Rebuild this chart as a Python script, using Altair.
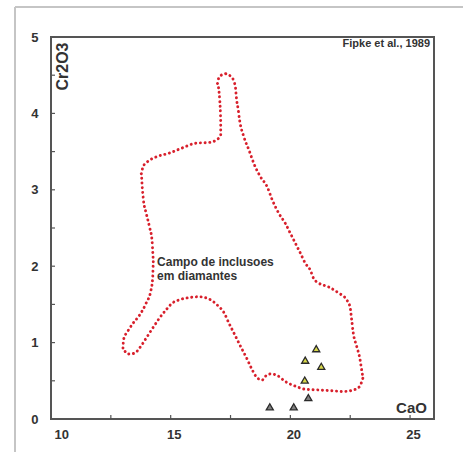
import altair as alt
import pandas as pd

# Outline of the "Campo de inclusoes em diamantes" field (CaO, Cr2O3)
field_cao = [17.30, 17.58, 17.71, 17.74, 17.82, 17.88, 18.06, 18.27, 18.48, 18.75, 19.03, 19.24,
             19.52, 19.79, 20.00, 20.21, 20.42, 20.62, 20.83, 20.97, 21.18, 21.59, 22.01, 22.35,
             22.49, 22.56, 22.63, 22.77, 22.91, 22.98, 23.05, 22.91, 22.63, 22.22, 21.73, 21.18,
             20.62, 20.21, 19.79, 19.45, 19.17, 18.96, 18.82, 18.61, 18.41, 18.20, 17.92, 17.65,
             17.44, 17.23, 16.95, 16.61, 16.19, 15.78, 15.36, 15.08, 14.81, 14.53, 14.25, 13.98,
             13.70, 13.49, 13.21, 13.00, 13.03, 13.21, 13.42, 13.70, 13.98, 14.18, 14.25, 14.28,
             14.22, 14.11, 13.98, 13.86, 13.81, 13.77, 13.84, 14.04, 14.39, 14.94, 15.50, 16.05,
             16.61, 16.95, 17.09, 17.09, 17.05, 16.95, 17.02, 17.30]
field_cr = [4.52, 4.46, 4.33, 4.22, 4.05, 3.91, 3.69, 3.52, 3.34, 3.17, 3.04, 2.87,
            2.69, 2.56, 2.43, 2.30, 2.17, 2.04, 1.95, 1.84, 1.78, 1.73, 1.65, 1.56,
            1.47, 1.30, 1.12, 0.95, 0.78, 0.64, 0.54, 0.43, 0.38, 0.36, 0.37, 0.38,
            0.39, 0.43, 0.49, 0.57, 0.59, 0.56, 0.51, 0.54, 0.64, 0.78, 0.95, 1.12,
            1.25, 1.39, 1.49, 1.57, 1.60, 1.59, 1.56, 1.52, 1.43, 1.32, 1.19, 1.06,
            0.93, 0.86, 0.85, 0.91, 1.04, 1.15, 1.25, 1.36, 1.52, 1.69, 1.86, 2.08,
            2.34, 2.52, 2.69, 2.87, 3.04, 3.21, 3.30, 3.37, 3.43, 3.48, 3.55, 3.61,
            3.62, 3.66, 3.72, 3.87, 4.17, 4.39, 4.48, 4.52]

# Garnet samples
sample_cao = [21.08, 20.62, 21.29, 20.60, 20.75, 19.14, 20.14]
sample_cr = [0.92, 0.77, 0.69, 0.51, 0.28, 0.16, 0.16]
sample_group = ["in", "in", "in", "in", "out", "out", "out"]

y_ticks = [0, 0.5, 1, 1.5, 2, 2.5, 3, 3.5, 4, 4.5, 5]
x_ticks = [10, 12.5, 15, 17.5, 20, 22.5, 25]

field_label = ["Campo de inclusoes", "em diamantes"]
source_label = "Fipke et al., 1989"

W, H = 383, 382
FONT = "Liberation Sans"

field_df = pd.DataFrame({"CaO": field_cao, "Cr2O3": field_cr, "i": range(len(field_cao))})
sample_df = pd.DataFrame({"CaO": sample_cao, "Cr2O3": sample_cr, "g": sample_group})
yt_df = pd.DataFrame({"v": y_ticks})
xt_df = pd.DataFrame({"v": x_ticks})

xs = alt.Scale(domain=[10, 26], nice=False, zero=False)
ys = alt.Scale(domain=[0, 5], nice=False, zero=False)

base_x = alt.X("CaO:Q", scale=xs,
               axis=alt.Axis(values=[10, 15, 20, 25], format="d", grid=False, domain=False, ticks=False,
                             labelPadding=9, labelOffset=3, labelFontSize=13, labelFontWeight="bold",
                             labelColor="#333", labelFont=FONT,
                             title="CaO", titleX=360, titleY=-12, titleAlign="center",
                             titleBaseline="middle", titleFontSize=15, titleFontWeight="bold",
                             titleColor="#333", titleFont=FONT))
base_y = alt.Y("Cr2O3:Q", scale=ys,
               axis=alt.Axis(values=[0, 1, 2, 3, 4, 5], format="d", grid=False, domain=False, ticks=False,
                             labelPadding=13, labelFontSize=13, labelFontWeight="bold",
                             labelColor="#333", labelFont=FONT,
                             title="Cr2O3", titleX=11, titleY=29, titleAngle=270, titleAlign="center",
                             titleBaseline="middle", titleFontSize=16, titleFontWeight="bold",
                             titleColor="#333", titleFont=FONT))

field = alt.Chart(field_df).mark_line(
    color="#d8202c", strokeWidth=2.9, strokeDash=[0.1, 4.6], strokeCap="round", interpolate="monotone"
).encode(x=base_x, y=base_y, order="i:Q")

samples = alt.Chart(sample_df).mark_point(
    shape="triangle-up", filled=True, size=50, stroke="#2a2a2a", strokeWidth=1.3, opacity=1
).encode(
    x=alt.X("CaO:Q", scale=xs), y=alt.Y("Cr2O3:Q", scale=ys),
    fill=alt.Fill("g:N", scale=alt.Scale(domain=["in", "out"], range=["#d8d84a", "#808080"]), legend=None),
)

ytick = alt.Chart(yt_df).mark_rule(color="#555", strokeWidth=1.2).encode(
    y=alt.Y("v:Q", scale=ys), x=alt.value(0), x2=alt.value(4))
xtick = alt.Chart(xt_df).mark_rule(color="#555", strokeWidth=1.2).encode(
    x=alt.X("v:Q", scale=xs), y=alt.value(H), y2=alt.value(H - 4))

label_df = pd.DataFrame({"CaO": [14.43, 14.43], "Cr2O3": [2.06, 1.87], "t": field_label})
labels = alt.Chart(label_df).mark_text(
    align="left", baseline="middle", fontSize=12, fontWeight="bold", color="#333", font=FONT
).encode(x=alt.X("CaO:Q", scale=xs), y=alt.Y("Cr2O3:Q", scale=ys), text="t:N")

src_df = pd.DataFrame({"CaO": [26], "Cr2O3": [4.906], "t": [source_label]})
src = alt.Chart(src_df).mark_text(
    align="right", baseline="middle", dx=-4, fontSize=11, fontWeight="bold", color="#333", font=FONT
).encode(x=alt.X("CaO:Q", scale=xs), y=alt.Y("Cr2O3:Q", scale=ys), text="t:N")

# light page border (top and left edges of the figure)
border_top = alt.Chart(xt_df).mark_rule(color="#c4c4c4", strokeWidth=1.5, clip=False).encode(
    x=alt.value(-36), x2=alt.value(420), y=alt.value(-30))
border_left = alt.Chart(xt_df).mark_rule(color="#c4c4c4", strokeWidth=1.5, clip=False).encode(
    x=alt.value(-36), y=alt.value(-30), y2=alt.value(420))

chart = alt.layer(border_top, border_left, field, ytick, xtick, samples, labels, src).properties(
    width=W, height=H,
    autosize=alt.AutoSizeParams(type="none"),
    padding={"left": 51, "top": 37, "right": 29, "bottom": 33},
    background="white",
).configure_view(stroke="#555", strokeWidth=2)

chart.save("out.html", embed_options={"renderer": "svg", "actions": False})
